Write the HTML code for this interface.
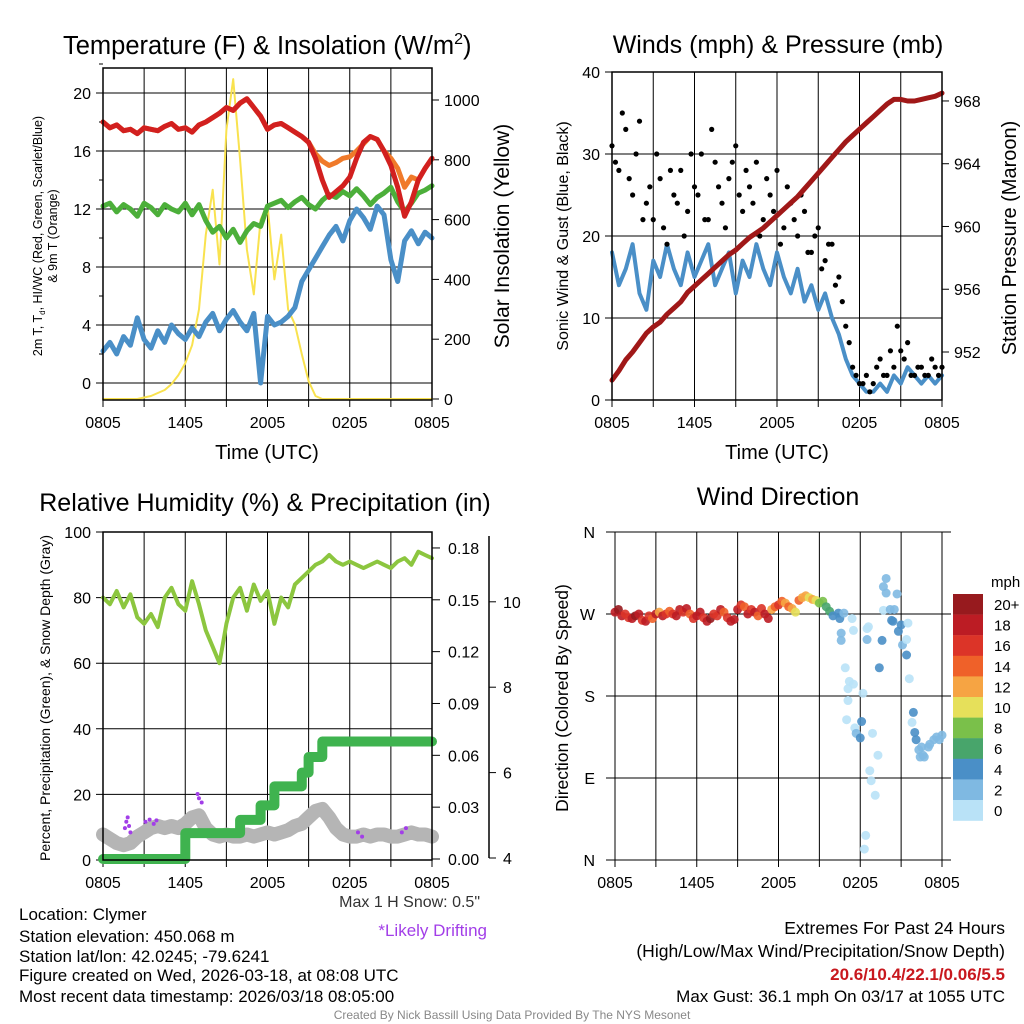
<!DOCTYPE html>
<html><head><meta charset="utf-8"><title>Mesonet Station Chart</title>
<style>
html,body{margin:0;padding:0;background:#fff;}
svg{display:block;font-family:"Liberation Sans",Arial,sans-serif;}
</style></head>
<body>
<svg id="chart" width="1024" height="1024" viewBox="0 0 1024 1024" xmlns="http://www.w3.org/2000/svg">
<rect width="1024" height="1024" fill="#fff"/>
</svg>
<script>
// ---------- DATA (0.5 h steps from 0805 UTC, 49 points) ----------
const xTickLabels = ["0805","1405","2005","0205","0805"];
const tempT   = [18.0,17.6,17.8,17.4,17.5,17.2,17.6,17.5,17.4,17.7,17.9,17.5,17.6,17.3,17.8,18.0,18.3,18.6,19.0,18.8,19.3,19.6,19.0,18.4,17.5,17.8,17.9,17.6,17.3,17.0,16.6,15.5,14.0,12.8,13.2,13.6,14.2,15.5,16.6,17.0,16.8,16.0,15.0,13.5,11.5,12.5,14.0,14.8,15.5];
const temp9m  = [18.0,17.6,17.8,17.4,17.5,17.2,17.6,17.5,17.4,17.7,17.9,17.5,17.6,17.3,17.8,18.0,18.3,18.6,19.0,18.8,19.3,19.6,19.0,18.4,17.5,17.8,17.9,17.6,17.3,17.0,16.6,15.8,15.3,15.0,15.2,15.5,15.6,16.0,16.5,17.0,16.8,16.0,15.5,14.8,13.5,14.2,14.0,14.8,15.5];
const dewpt   = [12.2,12.4,11.8,12.3,12.0,11.5,12.4,12.1,11.6,12.3,12.0,11.8,12.4,11.6,12.3,11.2,10.4,10.8,10.0,10.6,9.7,10.5,11.0,10.8,12.2,12.4,12.6,12.1,12.5,12.8,12.3,12.0,12.6,13.0,12.8,13.2,12.9,13.4,12.9,12.3,12.8,13.1,13.5,12.5,11.8,12.4,13.1,13.3,13.6];
const windChill = [2.2,2.8,2.0,3.2,2.6,4.5,3.0,2.4,3.6,2.8,4.0,3.4,3.0,3.8,3.2,4.2,4.8,3.6,4.4,5.0,4.2,3.6,4.8,0.0,4.6,4.0,4.2,4.6,5.2,7.0,7.8,8.6,9.4,10.2,10.8,9.8,11.2,12.0,11.4,10.6,12.2,11.6,8.5,7.0,9.8,10.5,9.6,10.4,10.0];
const solar   = [0,0,0,0,0,0,5,10,20,30,50,80,120,180,300,550,700,450,900,1070,800,500,350,600,650,400,550,300,250,150,60,10,0,0,0,0,0,0,0,0,0,0,0,0,0,0,0,0,0];
const tempTicks = [0,4,8,12,16,20];
const solarTicks = [0,200,400,600,800,1000];

const windSpd = [18,14,16,19,13,11,17,15,19,16,14,18,15,17,19,14,16,18,13,17,15,19,16,14,18,15,13,16,12,14,11,13,10,8,5,3,2,1,1,2,1,3,2,4,3,2,3,2,3];
const gustA   = [31,28,33,25,34,24,22,27,19,25,28,23,26,30,22,29,24,27,31,23,26,29,22,25,28,21,24,20,23,18,21,17,19,15,9,4,2,3,2,5,3,4,6,7,3,4,3,4,4];
const gustB   = [29,35,27,30,22,26,30,21,28,24,20,30,25,22,33,26,21,29,25,28,24,20,27,23,19,26,22,25,18,20,16,19,14,12,7,3,2,1,4,3,6,9,5,3,4,3,5,3];
const pressure = [950.2,950.8,951.5,952.0,952.6,953.2,953.6,953.9,954.4,954.8,955.2,955.8,956.2,956.6,957.0,957.4,957.8,958.2,958.5,958.9,959.3,959.6,959.9,960.3,960.7,961.1,961.5,961.9,962.4,962.9,963.4,963.9,964.4,964.9,965.4,965.8,966.2,966.6,967.0,967.4,967.8,968.1,968.1,968.0,968.0,968.1,968.2,968.3,968.5];
const windTicks = [0,10,20,30,40];
const presTicks = [952,956,960,964,968];

const rh = [80,78,82,77,81,74,72,75,71,80,83,78,76,85,78,70,65,60,72,80,83,76,84,79,82,72,80,77,84,86,88,90,91,93,91,90,91,90,89,90,91,90,89,91,92,90,94,93,92];
const precip = [0,0,0,0,0,0,0,0,0,0,0,0,0.015,0.015,0.015,0.015,0.015,0.015,0.015,0.015,0.0226,0.0226,0.0226,0.031,0.031,0.042,0.042,0.042,0.042,0.05,0.059,0.059,0.068,0.068,0.068,0.068,0.068,0.068,0.068,0.068,0.068,0.068,0.068,0.068,0.068,0.068,0.068,0.068,0.068];
const snow = [4.55,4.45,4.35,4.3,4.35,4.5,4.6,4.7,4.75,4.7,4.75,4.7,4.8,4.95,5.0,4.7,4.55,4.5,4.55,4.5,4.5,4.55,4.5,4.55,4.6,4.55,4.6,4.65,4.75,4.8,4.95,5.1,5.15,4.95,4.7,4.55,4.5,4.5,4.55,4.5,4.55,4.55,4.5,4.5,4.55,4.6,4.55,4.55,4.5];
const driftHours = [1.6,1.7,1.8,1.9,2.0,3.1,3.4,3.7,3.9,6.9,7.0,7.2,18.6,18.9,21.8,22.1];
const driftSnow  = [4.7,4.85,4.95,4.75,4.6,4.85,4.9,4.8,4.88,5.5,5.4,5.3,4.6,4.5,4.6,4.7];
const rhTicks = [0,20,40,60,80,100];
const precipTicks = [0,0.03,0.06,0.09,0.12,0.15,0.18];
const precipTickLabels = ["0.00","0.03","0.06","0.09","0.12","0.15","0.18"];
const snowTicks = [4,6,8,10];

const dirEarly = [272,275,268,270,266,265,268,270,263,262,268,265,270,272,268,270,273,270,268,275,272,276,270,265,268,272,266,262,265,270,268,275,272,266,262,264,275,280,278,270,275,272,268,276,270,265,275,278,280,284,282,278,276,272,285,288,290,288,286,285,282,284,278,273,268];
const spdEarly = [18,20,19,17,16,18,20,19,17,18,16,15,19,13,18,17,14,17,18,19,16,18,15,17,18,19,17,18,20,17,16,18,14,17,18,19,18,17,15,18,17,18,15,16,19,18,13,14,16,14,12,15,13,11,15,13,12,10,12,11,9,8,7,6,5];
const lateHours = [16.4,16.5,16.8,17.4,17.5,16.6,16.6,16.9,17.2,17.1,17.5,18.2,17.1,17.0,17.6,17.7,18.0,18.1,18.5,18.6,18.5,18.9,19.3,18.7,18.8,19.1,18.4,18.3,19.4,19.6,19.9,19.7,19.9,20.7,19.7,20.2,20.5,20.3,20.4,20.8,21.0,21.5,21.1,21.4,21.4,21.6,21.9,21.8,22.0,22.1,22.3,22.6,22.4,22.7,23.0,23.4,23.6,24.0,23.8,22.5,23.1];
const lateDir   = [271,265,271,265,252,249,241,211,196,188,193,183,175,154,145,139,134,152,254,256,242,139,115,98,87,71,27,12,211,241,309,300,293,292,274,275,275,263,262,251,258,260,236,242,225,199,162,151,140,132,121,115,113,113,124,132,135,137,132,124,127];
const lateSpd   = [4,4,2,0,0,2,2,0,0,0,0,0,0,0,0,2,4,4,0,0,2,0,0,0,0,0,0,0,4,4,2,2,2,2,0,2,2,4,5,5,4,0,2,0,4,0,4,0,4,4,2,2,2,2,2,2,2,2,2,2,2];
const dirTickLabels = ["N","W","S","E","N"];
const dirTicks = [360,270,180,90,0];
const legendLabels = ["20+","18","16","14","12","10","8","6","4","2","0"];
const legendColors = ["#971a1e","#bc1c24","#dc3428","#ef6129","#f6a443","#e6e05a","#7ac04a","#48a56b","#4a8fc7","#7fb9e2","#b9e2f7"];

// ---------- helpers ----------
const svg = document.getElementById('chart');
const NS = "http://www.w3.org/2000/svg";
function mk(tag, attrs, parent){
  const e = document.createElementNS(NS, tag);
  for (const k in attrs) e.setAttribute(k, attrs[k]);
  (parent||svg).appendChild(e);
  return e;
}
function txt(s, x, y, size, anchor, name, extra){
  const t = mk('text', Object.assign({x:x, y:y, 'font-size':size, 'text-anchor':anchor||'start', fill:'#000'}, extra||{}));
  t.textContent = s;
  
  
  return t;
}
function hours(n){ const a=[]; for(let i=0;i<n;i++) a.push(i*0.5); return a; }
function pathFrom(xs, ys, xf, yf){
  let d=''; for(let i=0;i<ys.length;i++){ d += (i?'L':'M') + xf(xs[i]).toFixed(1) + ',' + yf(ys[i]).toFixed(1); } return d;
}
function line(d, color, w, name){
  const p = mk('path', {d:d, fill:'none', stroke:color, 'stroke-width':w, 'stroke-linejoin':'round', 'stroke-linecap':'round'});
  
  
  return p;
}
function frame(x0,y0,x1,y1,name){
  const r = mk('rect',{x:x0,y:y0,width:x1-x0,height:y1-y0,fill:'none',stroke:'#000','stroke-width':1.5});
  
  
}
function gridX(x0,x1,y0,y1,name){
  for(let h=0;h<=24;h+=3){
    const x = x0 + (x1-x0)*h/24;
    const g = mk('line',{x1:x,y1:y0,x2:x,y2:y1,stroke:'#000','stroke-width':1});
    
    
    const tk = mk('line',{x1:x,y1:y1,x2:x,y2:y1+7,stroke:'#000','stroke-width':1});
    
    
  }
  xTickLabels.forEach((s,i)=>{ txt(s, x0+(x1-x0)*i/4, y1+28, 16, 'middle', 'x-tick-label'); });
}
const H = hours(49);

// ================= PANEL 1: Temperature =================
(function(){
  const x0=103,x1=432,yt=68,yb=400;
  const X = h => x0 + (x1-x0)*h/24;
  const Y = v => 383 - 14.5*v;
  const YS = w => 399 - 0.299*w;
  tempTicks.forEach(v=>{
    const g=mk('line',{x1:x0-7,y1:Y(v),x2:x1,y2:Y(v),stroke:'#000','stroke-width':1});
    
    
    txt(String(v), x0-12, Y(v)+6, 16, 'end', 'temp-y-tick-label');
    const m=mk('line',{x1:x0-4,y1:Y(v+2),x2:x0,y2:Y(v+2),stroke:'#000'});
    
    
  });
  solarTicks.forEach(w=>{
    const t=mk('line',{x1:x1,y1:YS(w),x2:x1+7,y2:YS(w),stroke:'#000'});
    
    
    txt(String(w), x1+12, YS(w)+6, 16, 'start', 'solar-y-tick-label');
  });
  gridX(x0,x1,yt,yb,'temp-x-gridline');
  line(pathFrom(H, solar, X, YS), '#f9e24f', 2, 'solar-insolation-line');
  line(pathFrom(H, windChill, X, Y), '#4a8fc7', 5, 'wind-chill-line');
  line(pathFrom(H, dewpt, X, Y), '#4caf3a', 5, 'dewpoint-line');
  line(pathFrom(H, temp9m, X, Y), '#f07a2a', 5, 'temp-9m-line');
  line(pathFrom(H, tempT, X, Y), '#d2201f', 5, 'temp-2m-line');
  frame(x0,yt,x1,yb,'temp-plot-frame');
  const t = txt('Temperature (F) & Insolation (W/m', 63, 54, 25.5, 'start', 'temp-chart-title');
  const sup = mk('tspan',{dy:-10,'font-size':16}, t); sup.textContent='2';
  
  
  const cl = mk('tspan',{dy:10}, t); cl.textContent=')';
  
  
  txt('Time (UTC)', 267, 459, 20, 'middle', 'temp-x-axis-title');
  txt('Solar Insolation (Yellow)', 509, 236, 21, 'middle', 'solar-y-axis-title', {transform:'rotate(-90 509 236)'});
  const yl = txt('2m T, T', 42, 236, 12.5, 'middle', 'temp-y-axis-title', {transform:'rotate(-90 42 236)'});
  const sb = mk('tspan',{dy:3,'font-size':8}, yl); sb.textContent='d';
  
  
  const rest = mk('tspan',{dy:-3}, yl); rest.textContent=', HI/WC (Red, Green, Scarlet/Blue)';
  
  
  txt('& 9m T (Orange)', 57, 236, 12.5, 'middle', 'temp-y-axis-title-line2', {transform:'rotate(-90 57 236)'});
})();

// ================= PANEL 2: Winds & Pressure =================
(function(){
  const x0=612,x1=942,yt=72,yb=400;
  const X = h => x0 + (x1-x0)*h/24;
  const Y = v => 400 - 8.2*v;
  const YP = p => 352 - 15.69*(p-952);
  windTicks.forEach(v=>{
    const g=mk('line',{x1:x0-7,y1:Y(v),x2:x1,y2:Y(v),stroke:'#000','stroke-width':1});
    
    
    txt(String(v), x0-12, Y(v)+6, 16, 'end', 'wind-y-tick-label');
  });
  presTicks.forEach(p=>{
    const t=mk('line',{x1:x1,y1:YP(p),x2:x1+7,y2:YP(p),stroke:'#000'});
    
    
    txt(String(p), x1+12, YP(p)+6, 16, 'start', 'pressure-y-tick-label');
  });
  gridX(x0,x1,yt,yb,'wind-x-gridline');
  line(pathFrom(H, windSpd, X, Y), '#4a8fc7', 4, 'sonic-wind-line');
  gustA.forEach((g,i)=>{
    const c=mk('circle',{cx:X(i*0.5),cy:Y(g),r:2.6,fill:'#000'});
    
    
  });
  gustB.forEach((g,i)=>{
    const c=mk('circle',{cx:X(i*0.5+0.25),cy:Y(g),r:2.6,fill:'#000'});
    
    
  });
  line(pathFrom(H, pressure, X, YP), '#a01818', 5, 'pressure-line');
  frame(x0,yt,x1,yb,'wind-plot-frame');
  txt('Winds (mph) & Pressure (mb)', 778, 53, 25, 'middle', 'wind-chart-title');
  txt('Time (UTC)', 777, 459, 20, 'middle', 'wind-x-axis-title');
  txt('Sonic Wind & Gust (Blue, Black)', 568, 236, 16, 'middle', 'wind-y-axis-title', {transform:'rotate(-90 568 236)'});
  txt('Station Pressure (Maroon)', 1016, 238, 20, 'middle', 'pressure-y-axis-title', {transform:'rotate(-90 1016 238)'});
})();

// ================= PANEL 3: RH & Precip =================
(function(){
  const x0=103,x1=432,yt=532,yb=860;
  const X = h => x0 + (x1-x0)*h/24;
  const Y = v => 860 - 3.28*v;
  const YP = p => 859 - 1728*p;
  const YS = s => 858 - 42.7*(s-4);
  rhTicks.forEach(v=>{
    const g=mk('line',{x1:x0-7,y1:Y(v),x2:x1,y2:Y(v),stroke:'#000','stroke-width':1});
    
    
    txt(String(v), x0-12, Y(v)+6, 16, 'end', 'rh-y-tick-label');
  });
  precipTicks.forEach((p,i)=>{
    const t=mk('line',{x1:x1,y1:YP(p),x2:x1+8,y2:YP(p),stroke:'#000'});
    
    
    txt(precipTickLabels[i], x1+16, YP(p)+6, 16, 'start', 'precip-y-tick-label');
  });
  const ax=mk('line',{x1:489,y1:536,x2:489,y2:858,stroke:'#000','stroke-width':1.5});
  
  
  snowTicks.forEach(s=>{
    const t=mk('line',{x1:489,y1:YS(s),x2:496,y2:YS(s),stroke:'#000'});
    
    
    txt(String(s), 503, YS(s)+6, 16, 'start', 'snow-y-tick-label');
  });
  gridX(x0,x1,yt,yb,'rh-x-gridline');
  line(pathFrom(H, snow, X, YS), '#b5b5b5', 14, 'snow-depth-line');
  driftHours.forEach((h,i)=>{
    const c=mk('circle',{cx:X(h),cy:YS(driftSnow[i]),r:2,fill:'#a23ee8'});
    
    
  });
  let d=''; precip.forEach((p,i)=>{ const x=X(i*0.5); d += (i? 'L'+x.toFixed(1)+','+YP(precip[i-1]).toFixed(1)+'L':'M') + x.toFixed(1)+','+YP(p).toFixed(1); });
  line(d, '#3fb34f', 10, 'precipitation-line');
  line(pathFrom(H, rh, X, Y), '#8cc63f', 4, 'relative-humidity-line');
  frame(x0,yt,x1,yb,'rh-plot-frame');
  txt('Relative Humidity (%) & Precipitation (in)', 265, 511, 25, 'middle', 'rh-chart-title');
  txt('Percent, Precipitation (Green), & Snow Depth (Gray)', 50, 698, 14, 'middle', 'rh-y-axis-title', {transform:'rotate(-90 50 698)'});
  txt('Max 1 H Snow: 0.5"', 480, 907, 16, 'end', 'max-snow-label', {fill:'#333'});
  txt('*Likely Drifting', 487, 936, 17, 'end', 'drifting-legend-label', {fill:'#a23ee8'});
})();

// ================= PANEL 4: Wind Direction =================
(function(){
  const x0=615,x1=942,yt=532,yb=860;
  const X = h => x0 + (x1-x0)*h/24;
  const Y = d => 532 + (360-d)*328/360;
  const col = s => legendColors[Math.max(0, Math.min(10, 10 - Math.floor(s/2)))];
  dirTicks.forEach((d,i)=>{
    const g=mk('line',{x1:x0-9,y1:Y(d),x2:x1+9,y2:Y(d),stroke:'#000','stroke-width':1});
    
    
    txt(dirTickLabels[i], x0-20, Y(d)+6, 16, 'end', 'direction-y-tick-label');
  });
  gridX(x0,x1,yt,yb,'direction-x-gridline');
  dirEarly.forEach((d,i)=>{
    const c=mk('circle',{cx:X(i*0.25),cy:Y(d),r:4.5,fill:col(spdEarly[i]),'fill-opacity':0.9});
    
    
  });
  lateHours.forEach((h,i)=>{
    const c=mk('circle',{cx:X(h),cy:Y(lateDir[i]),r:4.5,fill:col(lateSpd[i]),'fill-opacity':0.9});
    
    
  });
  txt('Wind Direction', 778, 505, 25, 'middle', 'direction-chart-title');
  txt('Direction (Colored By Speed)', 568, 698, 17.5, 'middle', 'direction-y-axis-title', {transform:'rotate(-90 568 698)'});
  txt('mph', 991, 587, 15, 'start', 'colorbar-title');
  legendColors.forEach((c,i)=>{
    const r=mk('rect',{x:953,y:594+i*20.6,width:30,height:20.8,fill:c});
    
    
    txt(legendLabels[i], 994, 610+i*20.6, 15, 'start', 'colorbar-label');
  });
})();

// ================= Footer text =================
const infoLines = ["Location: Clymer","Station elevation: 450.068 m","Station lat/lon: 42.0245; -79.6241","Figure created on Wed, 2026-03-18, at 08:08 UTC","Most recent data timestamp: 2026/03/18 08:05:00"];
const infoY = [920,942,962,981,1002];
infoLines.forEach((s,i)=> txt(s, 19, infoY[i], 17, 'start', 'station-info-line'));
txt('Extremes For Past 24 Hours', 1005, 934, 17.5, 'end', 'extremes-title');
txt('(High/Low/Max Wind/Precipitation/Snow Depth)', 1005, 957, 17.5, 'end', 'extremes-subtitle');
txt('20.6/10.4/22.1/0.06/5.5', 1005, 980, 17, 'end', 'extremes-values', {fill:'#c8181e','font-weight':'bold'});
txt('Max Gust: 36.1 mph On 03/17 at 1055 UTC', 1005, 1002, 17, 'end', 'max-gust-label');
txt('Created By Nick Bassill Using Data Provided By The NYS Mesonet', 512, 1019, 12, 'middle', 'credits-label', {fill:'#888'});
</script>
</body></html>
